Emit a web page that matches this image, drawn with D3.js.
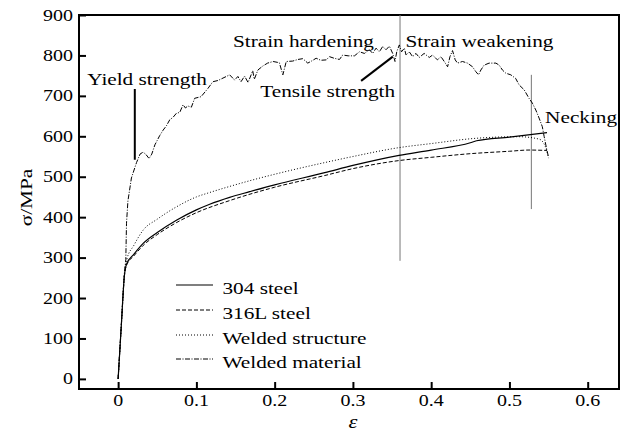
<!DOCTYPE html>
<html><head><meta charset="utf-8">
<script src="https://cdn.jsdelivr.net/npm/d3@7"></script>
<style>body{margin:0;background:#fff}svg{display:block}</style>
</head><body><svg id="c" width="622" height="431"></svg>
<script>
// ---- data: [strain, stress MPa] ----
const steel304 = [[0,0],[0.004,130],[0.008,255],[0.011,285],[0.02,308],[0.032,335],[0.05,362],[0.075,393],[0.1,418],[0.117,432],[0.1425,449],[0.168,463],[0.2,480],[0.264,510],[0.3,528],[0.359,553],[0.4,566],[0.45,584],[0.458,589],[0.5,598],[0.548,609]];
const steel316L = [[0,0],[0.004,130],[0.008,255],[0.011,282],[0.02,304],[0.032,330],[0.05,357],[0.075,387],[0.1,411],[0.1425,441],[0.2,474],[0.264,503],[0.3,520],[0.359,540],[0.4,548],[0.45,557],[0.5,563],[0.525,566],[0.548,565]];
const weldedStructure = [[0,0],[0.004,130],[0.008,258],[0.011,295],[0.02,330],[0.032,368],[0.05,395],[0.075,426],[0.1,450],[0.117,461],[0.1425,476],[0.168,490],[0.206,509],[0.264,535],[0.3,550],[0.359,572],[0.4,582],[0.457,595],[0.512,599],[0.538,593],[0.546,574],[0.55,546]];
const weldedMaterial = [[0,0],[0.004,130],[0.008,262],[0.0098,295],[0.0107,385],[0.0125,440],[0.017,497],[0.0235,535],[0.028,556],[0.032,561],[0.036,554],[0.0395,545],[0.043,556],[0.047,579],[0.0532,602],[0.0574,615],[0.0617,626],[0.066,641],[0.0702,647],[0.0745,657],[0.0787,659],[0.083,678],[0.086,670],[0.089,675],[0.0936,672],[0.0978,694],[0.106,698],[0.115,719],[0.121,735],[0.1276,738],[0.134,744],[0.1425,752],[0.1489,739],[0.153,748],[0.157,735],[0.1616,749],[0.166,733],[0.172,762],[0.174,741],[0.1786,764],[0.185,774],[0.191,781],[0.198,785],[0.206,782],[0.2105,752],[0.2148,785],[0.223,786],[0.2296,790],[0.236,792],[0.2423,781],[0.247,786],[0.253,793],[0.259,788],[0.266,789],[0.27,797],[0.276,793],[0.2828,790],[0.287,801],[0.294,799],[0.302,799],[0.3083,809],[0.3147,805],[0.321,814],[0.3253,805],[0.3296,818],[0.3338,809],[0.338,822],[0.3423,814],[0.3466,823],[0.3508,805],[0.3538,785],[0.356,809],[0.3593,826],[0.3622,809],[0.3657,818],[0.3679,801],[0.372,809],[0.3763,797],[0.3806,805],[0.3848,795],[0.391,805],[0.3976,795],[0.4018,801],[0.408,789],[0.4125,797],[0.4167,785],[0.421,772],[0.424,797],[0.4273,812],[0.4307,789],[0.4337,781],[0.44,785],[0.4464,781],[0.4528,772],[0.457,760],[0.4605,752],[0.4635,764],[0.4677,776],[0.474,781],[0.4827,781],[0.4869,776],[0.491,764],[0.4954,756],[0.5018,752],[0.508,743],[0.5124,727],[0.5188,715],[0.525,694],[0.5293,682],[0.5337,665],[0.5379,645],[0.542,624],[0.5443,600],[0.5472,572],[0.55,548]];

const seriesNames = ["304 steel","316L steel","Welded structure","Welded material"];
const xTicks = [0,0.1,0.2,0.3,0.4,0.5,0.6];
const xTickLabels = ["0","0.1","0.2","0.3","0.4","0.5","0.6"];
const yTicks = [0,100,200,300,400,500,600,700,800,900];

// annotations (data coords)
const guideLines = [[[0.3602,900],[0.3602,292]],[[0.528,752],[0.528,420]]];
const pointerLines = [[[0.0213,717],[0.0213,542]],[[0.3105,737],[0.351,797]]];
const annotations = [
  {t:"Yield strength", e:-0.0395, s:727},
  {t:"Strain hardening", e:0.1467, s:822},
  {t:"Strain weakening", e:0.3671, s:822},
  {t:"Tensile strength", e:0.1816, s:697},
  {t:"Necking", e:0.5456, s:632}
];

// ---- chart ----
const FONT = "'Liberation Serif', 'Times New Roman', Times, serif";
const svg = d3.select("#c");
const L=79,R=619,T=15,B=389;
const x = d3.scaleLinear().domain([-0.05,0.64]).range([L,R]);
const y = d3.scaleLinear().domain([-25,900]).range([B,T]);
const SX = 1.25;

function label(txt, px, py, anchor, size, rot, italic){
  const t = svg.append("text")
    .attr("transform", `translate(${px},${py})` + (rot?` rotate(${rot})`:"") + ` scale(${SX},1)`)
    .attr("text-anchor", anchor).attr("font-size", size)
    .attr("font-family", FONT).attr("fill","#000").text(txt);
  if(italic) t.attr("font-style","italic");
  return t;
}

// frame
svg.append("rect").attr("x",L).attr("y",T).attr("width",R-L).attr("height",B-T)
  .attr("fill","none").attr("stroke","#000").attr("stroke-width",2);

// x ticks
const gx = svg.append("g").attr("transform",`translate(0,${B})`);
gx.call(d3.axisBottom(x).tickValues(d3.range(-0.05,0.64,0.05).filter((v,i)=>i%2==0)).tickSize(-4).tickFormat(""));
gx.call(d3.axisBottom(x).tickValues(xTicks).tickSize(-7).tickFormat(""));
gx.selectAll(".domain").remove();
gx.selectAll(".tick line").attr("stroke","#000").attr("stroke-width",2);
xTicks.forEach((v,i)=>label(xTickLabels[i], x(v), 406, "middle", 16));

// y ticks
const gy = svg.append("g").attr("transform",`translate(${L},0)`);
gy.call(d3.axisLeft(y).tickValues(d3.range(50,900,100)).tickSize(-4).tickFormat(""));
gy.call(d3.axisLeft(y).tickValues(yTicks).tickSize(-7).tickFormat(""));
gy.selectAll(".domain").remove();
gy.selectAll(".tick line").attr("stroke","#000").attr("stroke-width",2);
yTicks.forEach(v=>label(String(v), 73, y(v)+5.5, "end", 16));

// axis titles
label("σ/MPa", 32, 197.5, "middle", 17, -90);
label("ε", x(0.3), 428, "middle", 18, 0, true);

// guide lines
const line = d3.line().x(d=>x(d[0])).y(d=>y(d[1]));
const smooth = d3.line().x(d=>x(d[0])).y(d=>y(d[1])).curve(d3.curveMonotoneX);
guideLines.forEach(g=>svg.append("path").attr("d",line(g)).attr("stroke","#777").attr("stroke-width",1).attr("fill","none"));
pointerLines.forEach(g=>svg.append("path").attr("d",line(g)).attr("stroke","#000").attr("stroke-width",2).attr("fill","none"));

// curves
const styles = [
  {data:steel304, dash:null, w:1.2, gen:smooth},
  {data:steel316L, dash:"4,2", w:1, gen:smooth},
  {data:weldedStructure, dash:"1,2", w:1, gen:smooth},
  {data:weldedMaterial, dash:"5,1.5,1,1.5", w:1, gen:line}
];
styles.forEach(s=>{
  const p = svg.append("path").attr("d",s.gen(s.data)).attr("fill","none")
    .attr("stroke","#000").attr("stroke-width",s.w);
  if(s.dash) p.attr("stroke-dasharray",s.dash);
});

// annotations text
annotations.forEach(a=>label(a.t, x(a.e), y(a.s), "start", 17));

// legend
const legY = [285,310,335,359];
seriesNames.forEach((n,i)=>{
  const p = svg.append("line").attr("x1",176).attr("x2",213).attr("y1",legY[i]).attr("y2",legY[i])
    .attr("stroke","#000").attr("stroke-width",styles[i].w);
  if(styles[i].dash) p.attr("stroke-dasharray",styles[i].dash);
  label(n, 222.5, legY[i]+8.5, "start", 17);
});
</script></body></html>
